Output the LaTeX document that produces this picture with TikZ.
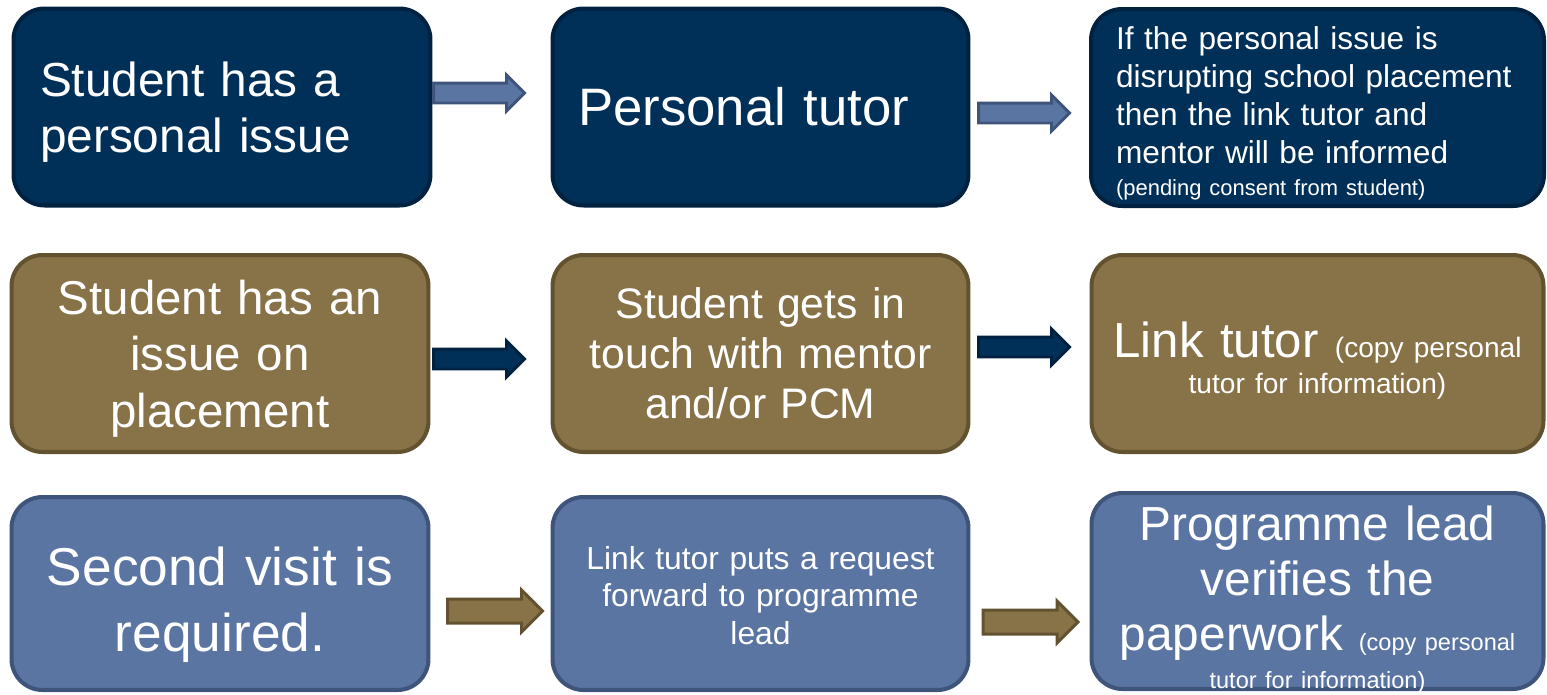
\documentclass[tikz,border=0pt]{standalone}
\definecolor{navyfill}{RGB}{0, 48, 88}
\definecolor{navyline}{RGB}{1, 33, 64}
\definecolor{olivefill}{RGB}{136, 114, 72}
\definecolor{oliveline}{RGB}{98, 82, 48}
\definecolor{steelfill}{RGB}{91, 117, 163}
\definecolor{steelline}{RGB}{63, 84, 122}
\usepackage{fontspec}
\setmainfont{Liberation Sans}
\usetikzlibrary{shapes.arrows, positioning}
\newcommand{\fsz}[2]{\fontsize{#1}{#2}\selectfont\spaceskip=0.36em\relax}
\newcommand{\topgap}[1]{\rule{0pt}{#1}}

\begin{document}
\begin{tikzpicture}[x=0.02cm, y=-0.02cm,
  stage/.style={rounded corners=0.62cm, line width=2.3pt, text=white, inner sep=0pt,
    minimum height=3.94cm},
  navybox/.style={stage, fill=navyfill, draw=navyline},
  olivebox/.style={stage, fill=olivefill, draw=oliveline},
  steelbox/.style={stage, fill=steelfill, draw=steelline},
  blockarrow/.style={single arrow, single arrow head extend=0.16cm, inner xsep=0pt,
    inner ysep=0.17cm, minimum height=1.82cm, line width=1.7pt},
  bigarrow/.style={blockarrow, single arrow head extend=0.18cm, inner ysep=0.21cm,
    minimum height=1.9cm}
]
  \useasboundingbox (0,0) rectangle (1547,694);

  % Row 1: personal issue
  \node[navybox, minimum width=8.34cm, text width=7.28cm, align=left, font={\fsz{27.2}{31.9}}] (pissue) at (222,107)
    {\topgap{25.5pt}Student has a\\personal issue};
  \node[navybox, minimum width=8.32cm, text width=7.3cm, align=left, font={\fsz{30}{36}}] (ptutor) at (760.5,107)
    {Personal tutor};
  \node[navybox, minimum width=9.06cm, text width=8.06cm, align=left, font={\fsz{18}{21.6}}] (inform) at (1317.5,107.5)
    {\topgap{19.9pt}If the personal issue is\\disrupting school placement\\then the link tutor and\\mentor will be informed\\[-3.6pt]
     {\fsz{12.5}{14}(pending consent from student)}};

  % Row 2: issue on placement
  \node[olivebox, minimum width=8.34cm, text width=8cm, align=center, font={\fsz{27}{32}}] (pissue2) at (220,353.5)
    {\topgap{25.4pt}Student has an\\issue on\\placement};
  \node[olivebox, minimum width=8.32cm, text width=8cm, align=center, font={\fsz{24.3}{28.5}}] (mentor) at (760.5,353.5)
    {Student gets in\\touch with mentor\\and/or PCM};
  \node[olivebox, minimum width=9.04cm, text width=8.8cm, align=center, font={\fsz{28}{20.5}}] (ltutor) at (1317.5,353.5)
    {\topgap{28.4pt}Link tutor {\fsz{16}{20.5}(copy personal\\tutor for information)}};

  % Row 3: second visit
  \node[steelbox, minimum width=8.34cm, text width=8cm, align=center, minimum height=3.86cm, font={\fsz{30.3}{37.5}}] (visit) at (220,593.5)
    {\topgap{34.6pt}Second visit is\\required.};
  \node[steelbox, minimum width=8.32cm, text width=8cm, align=center, minimum height=3.86cm, font={\fsz{18.1}{21.6}}] (request) at (760.5,593.5)
    {\topgap{15.5pt}Link tutor puts a request\\forward to programme\\lead};
  \node[steelbox, minimum width=9.04cm, minimum height=3.92cm] (verify) at (1317.5,591) {};
  \node[text=white, inner sep=0pt, text width=8.8cm, align=center, font={\fsz{27.2}{31.3}}] (verifytxt) at (1317.5,600)
    {Programme lead\\verifies the\\paperwork {\fsz{13.4}{31.3}(copy personal\\[-9.7pt]tutor for information)}};

  % Block arrows
  \node[blockarrow, fill=steelfill, draw=steelline] (arr1) at (474,93) {};
  \node[blockarrow, fill=steelfill, draw=steelline] (arr2) at (1019,113) {};
  \node[blockarrow, fill=navyfill, draw=navyline] (arr3) at (474,359) {};
  \node[blockarrow, fill=navyfill, draw=navyline] (arr4) at (1019,347) {};
  \node[bigarrow, fill=olivefill, draw=oliveline] (arr5) at (489,611) {};
  \node[bigarrow, fill=olivefill, draw=oliveline] (arr6) at (1024.5,622) {};
\end{tikzpicture}
\end{document}
